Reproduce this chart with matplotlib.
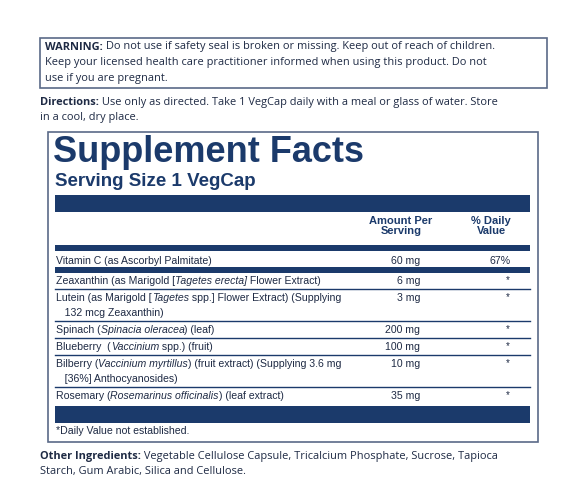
import matplotlib.pyplot as plt
from matplotlib.patches import Rectangle

navy = "#1b3a6b"
ink = "#1e2a44"

# label rows: list of (segments, amount, dv); segment = (text, italic)
rows = [
    [[("Zeaxanthin (as Marigold [", 0), ("Tagetes erecta]", 1), (" Flower Extract)", 0)]],
    [[("Lutein (as Marigold [", 0), ("Tagetes", 1), (" spp.] Flower Extract) (Supplying", 0)],
     [("   132 mcg Zeaxanthin)", 0)]],
    [[("Spinach (", 0), ("Spinacia oleracea", 1), (") (leaf)", 0)]],
    [[("Blueberry  (", 0), ("Vaccinium", 1), (" spp.) (fruit)", 0)]],
    [[("Bilberry (", 0), ("Vaccinium myrtillus", 1), (") (fruit extract) (Supplying 3.6 mg", 0)],
     [("   [36%] Anthocyanosides)", 0)]],
    [[("Rosemary (", 0), ("Rosemarinus officinalis", 1), (") (leaf extract)", 0)]],
]
amounts = ["6 mg", "3 mg", "200 mg", "100 mg", "10 mg", "35 mg"]
daily = ["*", "*", "*", "*", "*", "*"]

fig = plt.figure(figsize=(5.65, 4.94), dpi=100)
ax = fig.add_axes([0, 0, 1, 1])
ax.set_xlim(0, 565)
ax.set_ylim(494, 0)
ax.axis("off")
fig.canvas.draw()
renderer = fig.canvas.get_renderer()

def seg_text(x, y, segs, size=7.6, family="Liberation Sans", color=ink):
    for txt, style in segs:
        weight = "bold" if style == 2 else "normal"
        fs = "italic" if style == 1 else "normal"
        t = ax.text(x, y, txt, fontsize=size, family=family, style=fs, weight=weight,
                    color=color, va="center", ha="left")
        bb = t.get_window_extent(renderer)
        x += bb.width  # 1 px per data unit

# warning box
ax.add_patch(Rectangle((40, 38), 507, 50, fill=False, ec="#5a6a88", lw=1.2))
seg_text(45, 47, [("WARNING:", 2), (" Do not use if safety seal is broken or missing. Keep out of reach of children.", 0)],
         size=7.9, family="Open Sans")
seg_text(45, 63, [("Keep your licensed health care practitioner informed when using this product. Do not", 0)],
         size=7.9, family="Open Sans")
seg_text(45, 79, [("use if you are pregnant.", 0)], size=7.9, family="Open Sans")

seg_text(40, 102, [("Directions:", 2), (" Use only as directed. Take 1 VegCap daily with a meal or glass of water. Store", 0)],
         size=7.9, family="Open Sans")
seg_text(40, 117, [("in a cool, dry place.", 0)], size=7.9, family="Open Sans")

# main box
ax.add_patch(Rectangle((48, 132), 490, 310, fill=False, ec="#5a6a88", lw=1.2))
ax.text(53, 152, "Supplement Facts", fontsize=26, weight="bold", family="Liberation Sans",
        color=navy, va="center")
ax.text(55, 181, "Serving Size 1 VegCap", fontsize=13.5, weight="bold", family="Liberation Sans",
        color=navy, va="center")
ax.add_patch(Rectangle((55, 195), 475, 17, color=navy, lw=0))
ax.text(401, 226, "Amount Per\nServing", fontsize=8, weight="bold", ha="center", va="center",
        color=navy, family="Liberation Sans", linespacing=1.1)
ax.text(491, 226, "% Daily\nValue", fontsize=8, weight="bold", ha="center", va="center",
        color=navy, family="Liberation Sans", linespacing=1.1)
ax.add_patch(Rectangle((55, 245), 475, 6, color=navy, lw=0))
seg_text(56, 261, [("Vitamin C (as Ascorbyl Palmitate)", 0)])
ax.text(420, 261, "60 mg", fontsize=7.6, ha="right", va="center", color=ink, family="Liberation Sans")
ax.text(511, 261, "67%", fontsize=7.6, ha="right", va="center", color=ink, family="Liberation Sans")
ax.add_patch(Rectangle((55, 267), 475, 6, color=navy, lw=0))

y = 281
for lines, amt, dv in zip(rows, amounts, daily):
    for i, segs in enumerate(lines):
        seg_text(56, y + i * 15, segs)
    ax.text(420, y, amt, fontsize=7.6, ha="right", va="center", color=ink, family="Liberation Sans")
    ax.text(510, y - 1, dv, fontsize=7, ha="right", va="center", color=ink, family="Liberation Sans")
    bottom = y + (len(lines) - 1) * 15 + 8
    if amt != amounts[-1]:
        ax.plot([55, 530], [bottom, bottom], color=navy, lw=1)
    y = bottom + 9

ax.add_patch(Rectangle((55, 406), 475, 17, color=navy, lw=0))
seg_text(56, 431, [("*Daily Value not established.", 0)])

seg_text(40, 456, [("Other Ingredients:", 2), (" Vegetable Cellulose Capsule, Tricalcium Phosphate, Sucrose, Tapioca", 0)],
         size=7.9, family="Open Sans")
seg_text(40, 471, [("Starch, Gum Arabic, Silica and Cellulose.", 0)], size=7.9, family="Open Sans")

fig.savefig("out.png", dpi=100)
